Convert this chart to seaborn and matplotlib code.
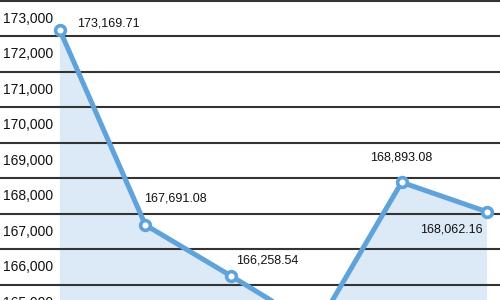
import matplotlib
matplotlib.use("Agg")
import matplotlib.pyplot as plt
import seaborn as sns
import pandas as pd
from matplotlib import font_manager

# ---- data ----
periods = [0, 1, 2, 3, 4, 5]
values = [173169.71, 167691.08, 166258.54, 164790.00, 168893.08, 168062.16]
value_labels = ["173,169.71", "167,691.08", "166,258.54", "164,790.00", "168,893.08", "168,062.16"]
grid_values = [166000, 167000, 168000, 169000, 170000, 171000, 172000, 173000, 174000]
tick_values = [165000, 166000, 167000, 168000, 169000, 170000, 171000, 172000, 173000]
tick_labels = ["165,000", "166,000", "167,000", "168,000", "169,000", "170,000",
               "171,000", "172,000", "173,000"]

sns.set_style("white")
names = {f.name for f in font_manager.fontManager.ttflist}
fam = "Liberation Sans Narrow" if "Liberation Sans Narrow" in names else "Liberation Sans"
plt.rcParams["font.family"] = [fam, "DejaVu Sans"]

LINE = "#5fa3da"
FILL = "#dce9f7"
GRID = "#333333"

df = pd.DataFrame({"period": periods, "value": values})

fig = plt.figure(figsize=(5, 3), dpi=100)
ax = fig.add_axes([0, 0, 1, 1])

ax.fill_between(df["period"], df["value"], 150000, color=FILL, zorder=1, linewidth=0)
for g in grid_values:
    ax.axhline(g, color=GRID, linewidth=1.5, zorder=2)

sns.lineplot(data=df, x="period", y="value", ax=ax, color=LINE, linewidth=3.6,
             marker="o", markersize=7, markerfacecolor="white",
             markeredgecolor=LINE, markeredgewidth=2.6, zorder=3)

for v, lab in zip(tick_values, tick_labels):
    ax.text(0.006, v + 500, lab, transform=ax.get_yaxis_transform(),
            ha="left", va="center", fontsize=10, color="#111111", zorder=4)

# data labels (offsets in points)
offsets = [(12, 5, "left"), (-1, 19, "left"), (4, 11, "left"),
           (0, -20, "center"), (0, 18, "center"), (-3, -13, "right")]
for x, v, lab, (dx, dy, ha) in zip(periods, values, value_labels, offsets):
    ax.annotate(lab, (x, v), xytext=(dx, dy), textcoords="offset points",
                ha=ha, va="center", fontsize=9, color="#111111", zorder=5)

ax.set_xlim(-0.7026, 5.152)
ax.set_ylim(165577, 174028)
ax.set_axis_off()

fig.savefig("out.png", dpi=100)
